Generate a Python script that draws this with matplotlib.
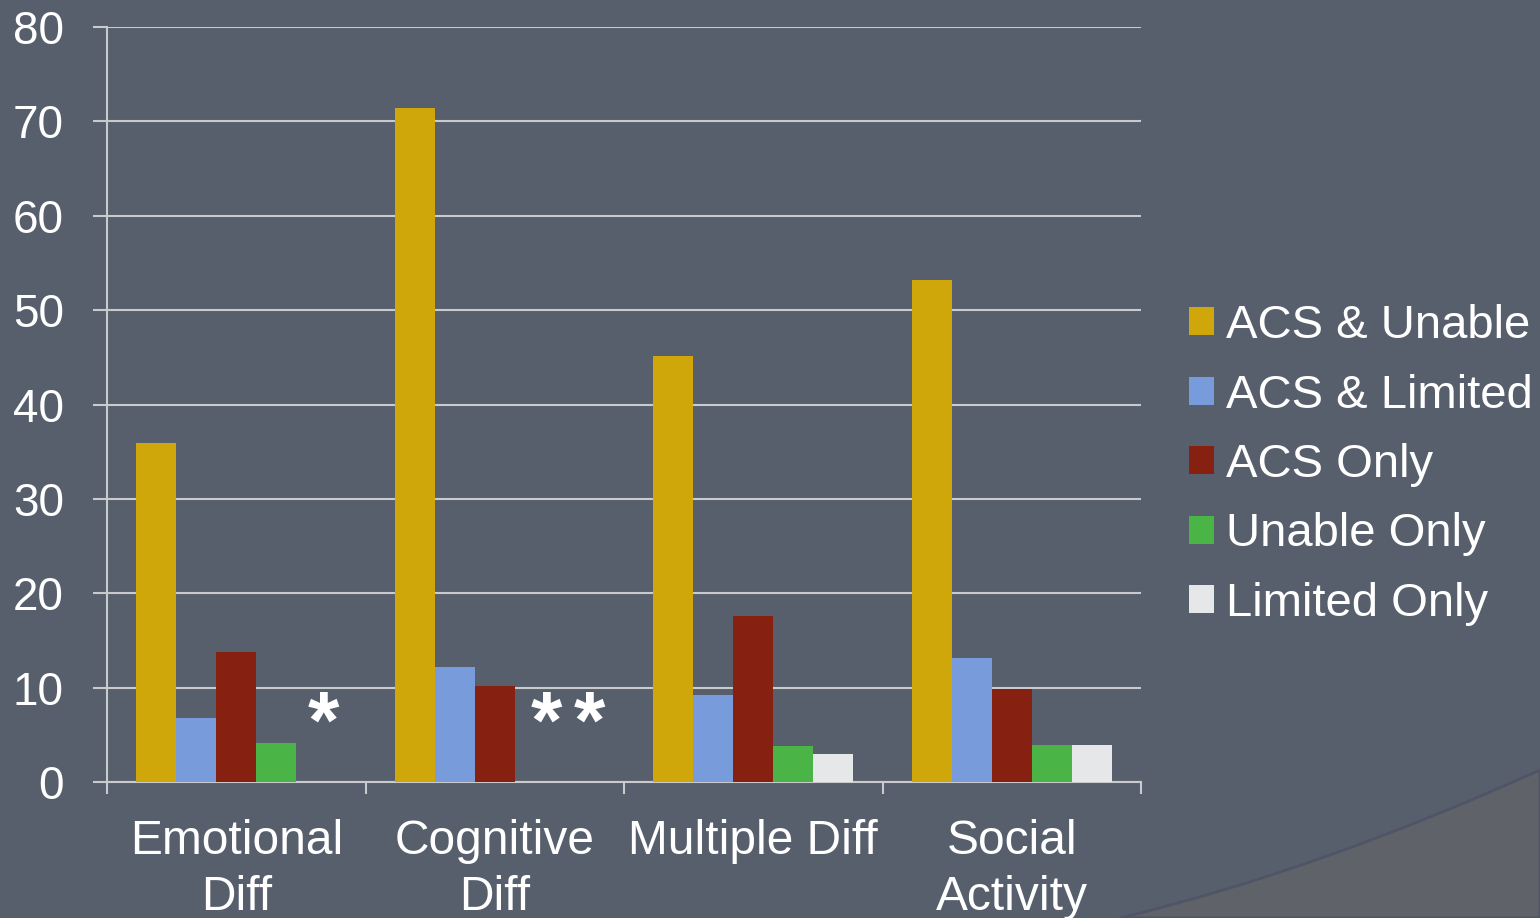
import matplotlib
matplotlib.use("Agg")
import matplotlib.pyplot as plt
import numpy as np
from matplotlib.path import Path
from matplotlib.patches import PathPatch

categories = ["Emotional\nDiff", "Cognitive\nDiff", "Multiple Diff", "Social\nActivity"]
series_names = ["ACS & Unable", "ACS & Limited", "ACS Only", "Unable Only", "Limited Only"]
acs_unable = [35.9, 71.4, 45.1, 53.2]
acs_limited = [6.8, 12.2, 9.2, 13.1]
acs_only = [13.8, 10.2, 17.6, 9.9]
unable_only = [4.1, 0, 3.8, 3.9]
limited_only = [0, 0, 3.0, 3.9]
annotations = ["*", "**", "", ""]
y_ticks = [0, 10, 20, 30, 40, 50, 60, 70, 80]

series = [acs_unable, acs_limited, acs_only, unable_only, limited_only]
colors = ["#cfa70b", "#779bdb", "#862010", "#4bb446", "#e6e7e8"]
bg = "#585f6c"
grid_c = "#c9cacc"

plt.rcParams['font.family'] = ['Liberation Sans', 'DejaVu Sans']

fig = plt.figure(figsize=(15.4, 9.18), dpi=100)
fig.patch.set_facecolor(bg)

# decorative lighter swoosh in lower right
W, H = 1540.0, 918.0
verts = [(1120/W, 0.0), (1319/W, (H-870)/H), (1.0, (H-770)/H), (1.0, 0.0), (1120/W, 0.0)]
codes = [Path.MOVETO, Path.CURVE3, Path.CURVE3, Path.LINETO, Path.CLOSEPOLY]
fig.patches.append(PathPatch(Path(verts, codes), transform=fig.transFigure,
                             facecolor="#606269", edgecolor="#4f5566", lw=2, zorder=0))

ax = fig.add_axes([107/W, 1-782/H, (1141-107)/W, (782-27)/H])
ax.set_facecolor("none")

n = len(categories)
x = np.arange(n)
w = 0.155
for i, (vals, name, c) in enumerate(zip(series, series_names, colors)):
    ax.bar(x + (i - 2) * w, vals, width=w, color=c, label=name, zorder=3, linewidth=0)

# significance markers: each star drawn as text after the last non-zero bar
star_step = 0.165
for xi, a in zip(x, annotations):
    if not a:
        continue
    start = xi + (2.17 * w if len(a) == 1 else 1.3 * w)
    for k, ch in enumerate(a):
        ax.text(start + k * star_step, 5.85, ch, color="white", fontsize=58,
                fontweight="bold", ha="center", va="center", zorder=4)

ax.set_xlim(-0.5, n - 0.5)
ax.set_ylim(0, 80)
ax.set_yticks(y_ticks)
ax.set_yticklabels([str(t) for t in y_ticks])
ax.yaxis.grid(True, color=grid_c, lw=1.5, zorder=1)
ax.set_axisbelow(True)

ax.set_xticks(np.arange(n + 1) - 0.5)
ax.set_xticklabels([])
ax.set_xticks(x, minor=True)
ax.set_xticklabels(categories, minor=True, fontsize=34.5, color="white", linespacing=1.31)
ax.tick_params(axis="x", which="minor", length=0, pad=27)
ax.tick_params(axis="x", which="major", length=8.6, width=1.5, color=grid_c)
ax.tick_params(axis="y", length=10, width=1.5, color=grid_c, labelsize=33,
               labelcolor="white", pad=21)

for s in ["top", "right"]:
    ax.spines[s].set_visible(False)
for s in ["left", "bottom"]:
    ax.spines[s].set_color(grid_c)
    ax.spines[s].set_linewidth(1.5)

leg = fig.legend(loc="center left", bbox_to_anchor=(1170/W, 1-465/H), frameon=False,
                 fontsize=34, labelcolor="white", handlelength=0.53, handleheight=0.53,
                 handletextpad=0.25, labelspacing=0.54, borderaxespad=0)

fig.savefig("out.png", dpi=100, facecolor=bg)
